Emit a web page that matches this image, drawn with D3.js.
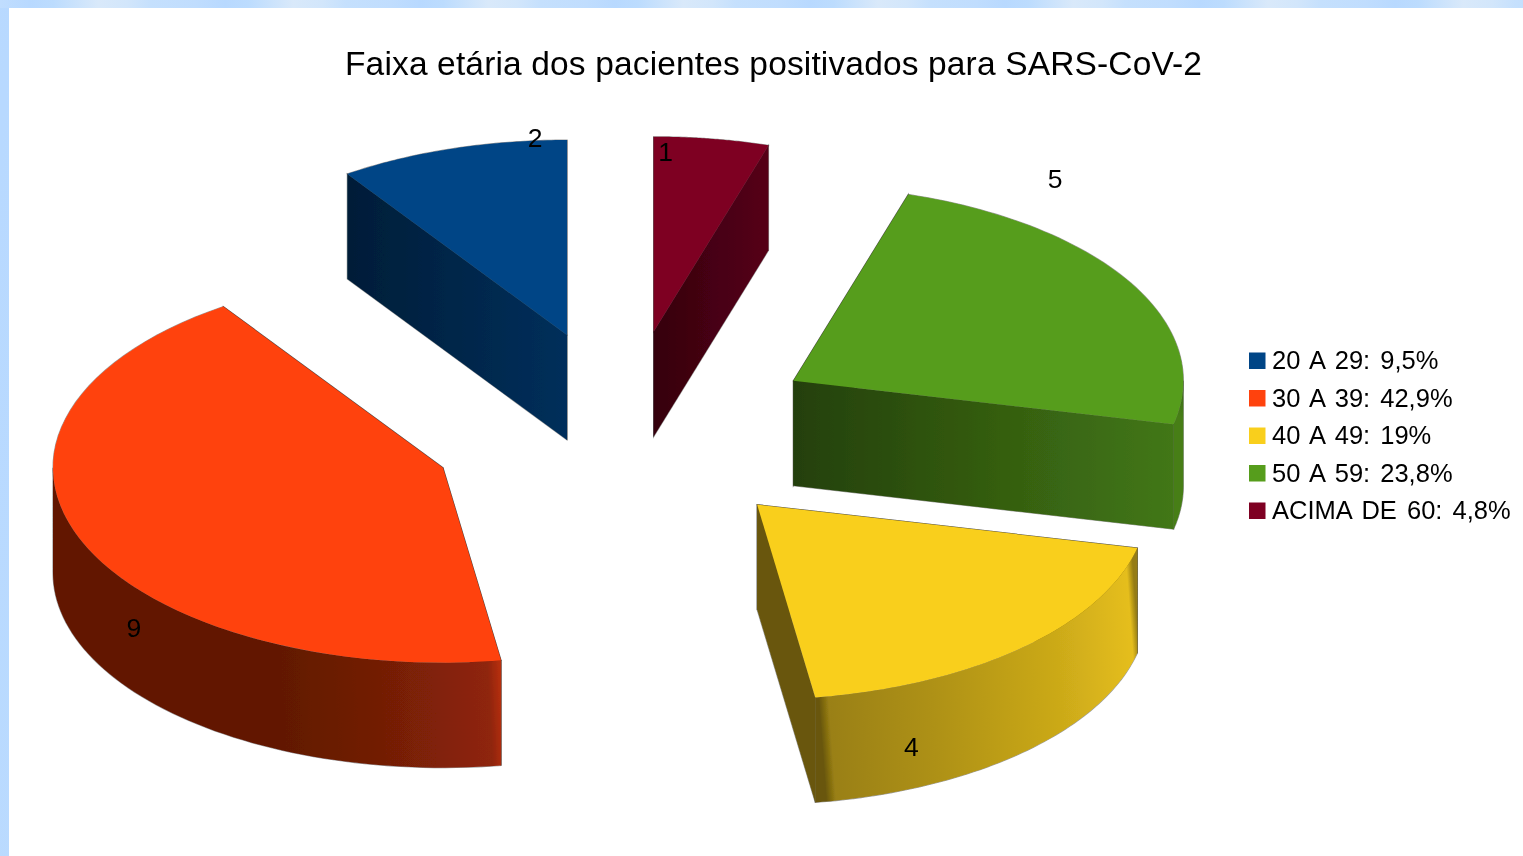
<!DOCTYPE html>
<html lang="pt">
<head>
<meta charset="utf-8">
<title>Faixa etária dos pacientes positivados para SARS-CoV-2</title>
<script src="https://d3js.org/d3.v7.min.js"></script>
<style>
html,body{margin:0;padding:0;background:#fff;overflow:hidden}
svg{display:block}
text{font-family:"Liberation Sans",Arial,sans-serif;fill:#000}
</style>
</head>
<body>
<div id="chart"></div>
<script>
const titleText = "Faixa etária dos pacientes positivados para SARS-CoV-2";
const categories = ["20 A 29", "30 A 39", "40 A 49", "50 A 59", "ACIMA DE 60"];
const patients = [2, 9, 4, 5, 1];
const colours = ["#004586", "#ff420e", "#f9cf1f", "#579d1c", "#7e0021"];
const drawOrder = [0, 4, 3, 1, 2];
const labelNudge = [[83, -2], [54, 98], [-111, 108], [-76, -95], [-46, 22]];
const cutShade = [[[0, .42], [1, .68]], [[0, .39], [1, .39]], [[0, .42], [1, .42]], [[0, .41], [1, .76]], [[0, .42], [1, .68]]];
const wallShade = [
  [[0, .4], [1, .4]],
  [[0, .385], [.5, .385], [.72, .45], [.96, .56], [1, .78]],
  [[0, .42], [.03, .62], [.35, .7], [.75, .82], [.98, .92], [1, .6]],
  [[0, .8], [1, .7]],
  [[0, .5], [1, .5]]
];

const W = 1523, H = 856;
const centre = {x: 624.5, y: 431}, radius = {x: 390, y: 195};
const explodeX = .5, explodeY = .515, depth = 105;

const svg = d3.select("#chart").append("svg").attr("width", W).attr("height", H);
const defs = svg.append("defs");
defs.append("filter").attr("id", "soft").attr("x", "-5%").attr("y", "-5%").attr("width", "110%").attr("height", "110%")
  .append("feGaussianBlur").attr("stdDeviation", .4);

function stripe(id, axis, start, period) {
  const g = defs.append("linearGradient").attr("id", id).attr("gradientUnits", "userSpaceOnUse")
    .attr("spreadMethod", "repeat")
    .attr(axis + "1", start).attr(axis + "2", start + period);
  [[0, "#b8d9ff"], [.12, "#bcdcfe"], [.35, "#d9e9fa"], [.5, "#d2e6fb"], [.62, "#c5e0fd"], [.85, "#c0ddfe"], [1, "#b8d9ff"]]
    .forEach(([o, c]) => g.append("stop").attr("offset", o).attr("stop-color", c));
}
stripe("bandTop", "x", 30, 195);
stripe("bandLeft", "y", 133, 160);
svg.append("rect").attr("width", W).attr("height", 8).attr("fill", "url(#bandTop)");
svg.append("rect").attr("y", 8).attr("width", 9).attr("height", H - 8).attr("fill", "url(#bandLeft)");

// unit-circle coordinates mapped through scales onto the flattened pie
const x = d3.scaleLinear([-1, 1], [centre.x - radius.x, centre.x + radius.x]);
const y = d3.scaleLinear([-1, 1], [centre.y - radius.y, centre.y + radius.y]);

const arcs = d3.pie().sort(null).startAngle(0).endAngle(-2 * Math.PI)(patients);
const line = d3.line();

const plot = svg.append("g").attr("filter", "url(#soft)");

function gradient(id, stops, base, box, tilt) {
  const g = defs.append("linearGradient").attr("id", id).attr("gradientUnits", "userSpaceOnUse")
    .attr("x1", box[0]).attr("x2", box[1]).attr("y1", box[2] + tilt).attr("y2", box[2] - tilt);
  const c = d3.rgb(base);
  stops.forEach(([o, f]) => g.append("stop").attr("offset", o)
    .attr("stop-color", d3.rgb(c.r * f, c.g * f, c.b * f).formatHex()));
  return `url(#${id})`;
}

drawOrder.forEach(i => {
  const a = arcs[i], mid = (a.startAngle + a.endAngle) / 2;
  const ox = explodeX * Math.sin(mid), oy = -explodeY * Math.cos(mid);
  const pt = t => [x(ox + Math.sin(t)), y(oy - Math.cos(t))];
  const apex = [x(ox), y(oy)];
  const down = p => [p[0], p[1] + depth];
  const n = 60;
  const sweep = (from, to) => d3.range(n + 1).map(k => pt(from + (to - from) * k / n));
  const g = plot.append("g");
  const rim = sweep(a.startAngle, a.endAngle);

  const faces = [];
  // two cut faces
  const cuts = [a.startAngle, a.endAngle].map(t => {
    const p = pt(t);
    return [apex, p, down(p), down(apex)];
  });
  const xs = cuts.flat().map(p => p[0]);
  const fillCut = gradient("cut" + i, cutShade[i], colours[i], [d3.min(xs), d3.max(xs), apex[1]], 0);
  cuts.forEach(c => faces.push({d: line(c) + "Z", fill: fillCut}));

  // outer wall: only the front half of the ellipse faces the viewer
  const lo = Math.max(a.endAngle, -1.5 * Math.PI), hi = Math.min(a.startAngle, -.5 * Math.PI);
  if (lo < hi) {
    const front = sweep(hi, lo);
    const box = [d3.min(front, p => p[0]), d3.max(front, p => p[0]), d3.mean(front, p => p[1])];
    faces.push({d: line(front.concat(front.map(down).reverse())) + "Z",
      fill: gradient("wall" + i, wallShade[i], colours[i], box, 12)});
  }

  // top face
  faces.push({d: line([apex].concat(rim)) + "Z", fill: colours[i]});

  // thin dark fringe along the silhouette, then the fills on top of it
  g.selectAll("path.fringe").data(faces).join("path").attr("class", "fringe").attr("d", d => d.d)
    .attr("fill", "none").attr("stroke", "#222").attr("stroke-opacity", .45).attr("stroke-width", 1.1);
  g.selectAll("path.face").data(faces).join("path").attr("class", "face").attr("d", d => d.d).attr("fill", d => d.fill);

  // value label
  const at = pt(mid);
  g.append("text").attr("x", at[0] + labelNudge[i][0]).attr("y", at[1] + labelNudge[i][1])
    .attr("text-anchor", "middle").attr("font-size", 26.5).text(patients[i]);
});

plot.append("text").attr("x", 773.5).attr("y", 75).attr("text-anchor", "middle")
  .attr("font-size", 33.5).attr("textLength", 857).attr("lengthAdjust", "spacing").text(titleText);

// legend
const total = d3.sum(patients);
const pct = d3.format(".1~f");
const rowY = d3.scalePoint(categories, [352.5, 502.5]);
const legend = plot.append("g").selectAll("g").data(categories).join("g");
legend.append("rect").attr("x", 1249).attr("y", d => rowY(d)).attr("width", 16.5).attr("height", 16.5)
  .attr("fill", (d, i) => colours[i]);
legend.append("text").attr("x", 1272).attr("y", d => rowY(d) + 16.5).attr("font-size", 25.5).attr("word-spacing", 3)
  .text((d, i) => `${d}: ${pct(100 * patients[i] / total).replace(".", ",")}%`);
</script>
</body>
</html>
